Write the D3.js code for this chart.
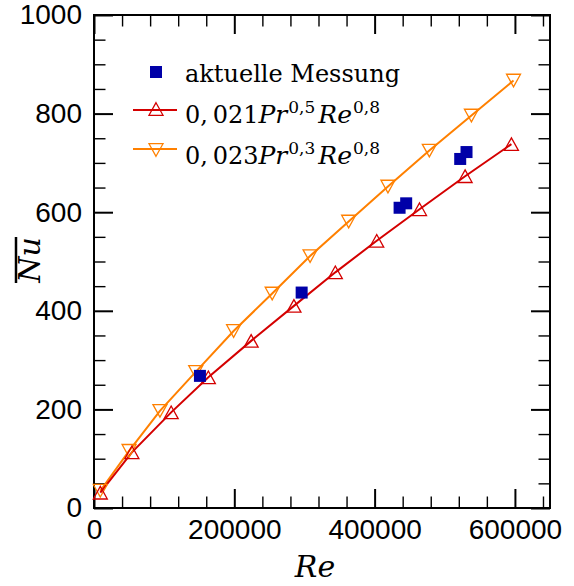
<!DOCTYPE html>
<html><head><meta charset="utf-8">
<script src="https://cdn.jsdelivr.net/npm/d3@7"></script>
<style>body{margin:0;background:#fff}</style>
</head><body>
<svg id="chart" width="574" height="586"></svg>
<script>
// measured data
const measRe = [151000, 296000, 435600, 445000, 522000, 531000];
const measNu = [268, 437, 609, 618, 708, 722];
// correlation 0,021 Pr^0,5 Re^0,8
const redRe = [9000, 54000, 110000, 163000, 224000, 285000, 344000, 403000, 464000, 529000, 595000];
const redNu = [31, 113, 194, 265, 339, 410, 478, 542, 606, 673, 738];
// correlation 0,023 Pr^0,3 Re^0,8
const orangeRe = [9000, 50000, 94000, 145000, 199000, 254000, 308000, 363000, 419000, 478000, 538000, 598000];
const orangeNu = [35, 116, 197, 276, 359, 435, 511, 581, 652, 725, 796, 867];
const xTicks = [0, 200000, 400000, 600000];
const yTicks = [0, 200, 400, 600, 800, 1000];
const xDomain = [0, 650000];
const yDomain = [0, 1000];

const svg = d3.select("#chart");
const L = 94, R = 550, T = 15, B = 508;
const x = d3.scaleLinear(xDomain, [L, R]);
const y = d3.scaleLinear(yDomain, [B, T]);
const xMinor = d3.range(0, 650001, 40000).filter(v => !xTicks.includes(v));
const yMinor = d3.range(0, 1001, 50).filter(v => !yTicks.includes(v));

const MAJ = 19, MIN = 11.5;
const tickFont = "'Liberation Sans', Arial, sans-serif";

function styleAxis(g, w) {
  g.select(".domain").remove();
  g.selectAll(".tick line").attr("stroke", "#000").attr("stroke-width", w);
}
// bottom
svg.append("g").attr("transform", `translate(0,${B})`)
  .call(d3.axisBottom(x).tickValues(xTicks).tickSize(-MAJ).tickPadding(11).tickFormat(d3.format("d")))
  .call(g => styleAxis(g, 2))
  .call(g => g.selectAll("text").attr("font-family", tickFont).attr("font-size", 28).attr("fill", "#000"));
svg.append("g").attr("transform", `translate(0,${B})`)
  .call(d3.axisBottom(x).tickValues(xMinor).tickSize(-MIN).tickFormat(""))
  .call(g => styleAxis(g, 1.4));
// top
svg.append("g").attr("transform", `translate(0,${T})`)
  .call(d3.axisTop(x).tickValues(xTicks).tickSize(-MAJ).tickFormat(""))
  .call(g => styleAxis(g, 2));
svg.append("g").attr("transform", `translate(0,${T})`)
  .call(d3.axisTop(x).tickValues(xMinor).tickSize(-MIN).tickFormat(""))
  .call(g => styleAxis(g, 1.4));
// left
svg.append("g").attr("transform", `translate(${L},0)`)
  .call(d3.axisLeft(y).tickValues(yTicks).tickSize(-MAJ).tickPadding(12).tickFormat(d3.format("d")))
  .call(g => styleAxis(g, 2))
  .call(g => g.selectAll("text").attr("font-family", tickFont).attr("font-size", 28).attr("fill", "#000"));
svg.append("g").attr("transform", `translate(${L},0)`)
  .call(d3.axisLeft(y).tickValues(yMinor).tickSize(-MIN).tickFormat(""))
  .call(g => styleAxis(g, 1.4));
// right
svg.append("g").attr("transform", `translate(${R},0)`)
  .call(d3.axisRight(y).tickValues(yTicks).tickSize(-MAJ).tickFormat(""))
  .call(g => styleAxis(g, 2));
svg.append("g").attr("transform", `translate(${R},0)`)
  .call(d3.axisRight(y).tickValues(yMinor).tickSize(-MIN).tickFormat(""))
  .call(g => styleAxis(g, 1.4));

// frame
svg.append("rect").attr("x", L).attr("y", T).attr("width", R - L).attr("height", B - T)
  .attr("fill", "none").attr("stroke", "#000").attr("stroke-width", 2);

const RED = "#d40000", ORANGE = "#ff8000", BLUE = "#0000a8";
const triUp = "M0,-6.3L7,6.3L-7,6.3Z";
const triDown = "M0,6.3L7,-6.3L-7,-6.3Z";
const line = d3.line().x(d => x(d[0])).y(d => y(d[1]));

const redPts = redRe.map((v, i) => [v, redNu[i]]);
const orPts = orangeRe.map((v, i) => [v, orangeNu[i]]);

svg.append("path").attr("d", line(orPts)).attr("fill", "none").attr("stroke", ORANGE).attr("stroke-width", 2);
svg.append("path").attr("d", line(redPts)).attr("fill", "none").attr("stroke", RED).attr("stroke-width", 2);

svg.append("g").selectAll("path").data(orPts).join("path")
  .attr("d", triDown).attr("transform", d => `translate(${x(d[0])},${y(d[1])})`)
  .attr("fill", "none").attr("stroke", ORANGE).attr("stroke-width", 1.3);
svg.append("g").selectAll("path").data(redPts).join("path")
  .attr("d", triUp).attr("transform", d => `translate(${x(d[0])},${y(d[1])})`)
  .attr("fill", "none").attr("stroke", RED).attr("stroke-width", 1.3);

const S = 12;
svg.append("g").selectAll("rect").data(measRe.map((v, i) => [v, measNu[i]])).join("rect")
  .attr("x", d => x(d[0]) - S / 2).attr("y", d => y(d[1]) - S / 2)
  .attr("width", S).attr("height", S).attr("fill", BLUE);

// legend
const serif = "'DejaVu Serif', serif";
const lg = svg.append("g");
lg.append("rect").attr("x", 156 - 6).attr("y", 72 - 6).attr("width", 12).attr("height", 12).attr("fill", BLUE);
lg.append("text").attr("x", 185).attr("y", 82).attr("font-family", serif).attr("font-size", 24).text("aktuelle Messung");

lg.append("line").attr("x1", 133).attr("x2", 177).attr("y1", 110).attr("y2", 110).attr("stroke", RED).attr("stroke-width", 2);
lg.append("path").attr("d", triUp).attr("transform", "translate(156,109)").attr("fill", "none").attr("stroke", RED).attr("stroke-width", 1.3);
lg.append("line").attr("x1", 133).attr("x2", 177).attr("y1", 149).attr("y2", 149).attr("stroke", ORANGE).attr("stroke-width", 2);
lg.append("path").attr("d", triDown).attr("transform", "translate(156,150)").attr("fill", "none").attr("stroke", ORANGE).attr("stroke-width", 1.3);

function formula(yb, c, p) {
  const t = lg.append("text").attr("x", 185).attr("y", yb).attr("font-family", serif).attr("font-size", 24);
  t.append("tspan").text(c);
  t.append("tspan").attr("font-style", "italic").attr("font-size", 25).text("Pr");
  t.append("tspan").attr("font-size", 17).attr("dy", -10).attr("dx", 1).text(p);
  t.append("tspan").attr("font-style", "italic").attr("font-size", 25).attr("dy", 10).attr("dx", 3).text("Re");
  t.append("tspan").attr("font-size", 17).attr("dy", -10).attr("dx", 1).text("0,8");
}
formula(123, "0,\u2009021", "0,5");
formula(164, "0,\u2009023", "0,3");

// axis labels
svg.append("text").attr("x", 315).attr("y", 577).attr("text-anchor", "middle")
  .attr("font-family", serif).attr("font-style", "italic").attr("font-size", 30).text("Re");
const yl = svg.append("g").attr("transform", "translate(40,260) rotate(-90)");
yl.append("text").attr("x", 0).attr("y", 0).attr("text-anchor", "middle")
  .attr("font-family", serif).attr("font-style", "italic").attr("font-size", 30).text("Nu");
yl.append("line").attr("x1", -23).attr("x2", 23).attr("y1", -24).attr("y2", -24).attr("stroke", "#000").attr("stroke-width", 2.5);
</script>
</body></html>
